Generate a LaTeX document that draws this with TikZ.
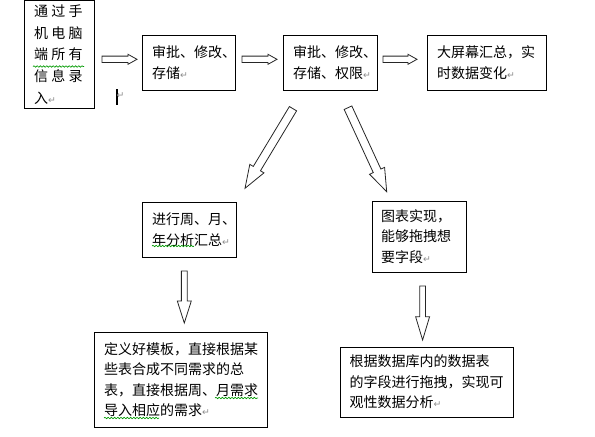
\documentclass[tikz,border=0pt]{standalone}
\usepackage{fontspec}
\setmainfont{Noto Sans CJK SC}
\newfontfamily\retfont{DejaVu Sans}
\usetikzlibrary{calc,decorations.pathmorphing}
\newcommand\rt{{\retfont\color{black!45}\fontsize{7}{7}\selectfont ↵}}
\newcommand\gapx{\hspace{2.5pt}}
\newcommand\blockarr[5]{%
  \coordinate (hb) at ($(#2)!#5!(#1)$);
  \draw[blockarrow] ($(#1)!#3!90:(#2)$) -- ($(hb)!#3!90:(#2)$) -- ($(hb)!#4!90:(#2)$) -- (#2)
    -- ($(hb)!#4!-90:(#2)$) -- ($(hb)!#3!-90:(#2)$) -- ($(#1)!#3!-90:(#2)$) -- cycle;}
\tikzset{
  box/.style={draw=black, line width=0.75pt, align=left, inner xsep=7.5pt, inner ysep=0pt,
    font=\fontsize{10.5}{15.4}\selectfont},
  blockarrow/.style={draw=black!85, line width=0.6pt, fill=white, line join=miter},
  squig/.style={draw=green!60!black, line width=0.5pt, decorate,
    decoration={snake, segment length=2.4pt, amplitude=0.55pt}}
}
\begin{document}
\begin{tikzpicture}[x=0.75pt,y=-0.75pt]
\useasboundingbox (0,0) rectangle (595,436);
% boxes
\node[box, minimum width=52.5pt, minimum height=81pt, text width=37.5pt, inner xsep=6.75pt,
  font=\fontsize{10.5}{16.2}\selectfont] (b1) at (59,54.5)
  {通\gapx 过\gapx 手\\机\gapx 电\gapx 脑\\端\gapx 所\gapx 有\\信\gapx 息\gapx 录\\入\rt};
\node[box, minimum width=69.75pt, minimum height=41.25pt, text width=54.75pt] (b2) at (188.5,62.5)
  {审批、修改、\\存储\rt};
\node[box, minimum width=70.5pt, minimum height=41.25pt, text width=55.5pt] (b3) at (330,62.5)
  {审批、修改、\\存储、权限\rt};
\node[box, minimum width=89.25pt, minimum height=41.25pt, text width=74.25pt] (b4) at (486.5,62.5)
  {大屏幕汇总，实\\时数据变化\rt};
\node[box, minimum width=70.5pt, minimum height=41.25pt, text width=55.5pt] (b5) at (189,229.5)
  {进行周、月、\\年分析汇总\rt};
\node[box, minimum width=70.5pt, minimum height=53.25pt, text width=57pt, inner xsep=6.75pt] (b6) at (419,236.5)
  {图表实现，\\能够拖拽想\\要字段\rt};
\node[box, minimum width=129.75pt, minimum height=71.25pt, text width=114.75pt] (b7) at (180.5,379.5)
  {定义好模板，直接根据某\\些表合成不同需求的总\\表，直接根据周、月需求\\导入相应的需求\rt};
\node[box, minimum width=129.75pt, minimum height=52.5pt, text width=115.5pt, inner xsep=7.1pt] (b8) at (426.5,382)
  {根据数据库内的数据表\\的字段进行拖拽，实现可\\观性数据分析\rt};
% cursor mark
\draw[line width=1.5pt] (117,89) -- (117,105);
\node[inner sep=0pt] (cur) at (120.5,96) {\rt};
% arrow end points
\coordinate (a1t) at (102,59.3); \coordinate (a1h) at (137,59.3);
\coordinate (a2t) at (242,59.3); \coordinate (a2h) at (277,59.3);
\coordinate (a3t) at (383,59.3); \coordinate (a3h) at (417,59.3);
\coordinate (d1t) at (293,108.7); \coordinate (d1h) at (245,188.3);
\coordinate (d2t) at (348,107.7); \coordinate (d2h) at (386.7,191.7);
\coordinate (v1t) at (184.3,271); \coordinate (v1h) at (184.3,323);
\coordinate (v2t) at (422.6,286); \coordinate (v2h) at (422.6,340);
% block arrows
\blockarr{a1t}{a1h}{2.4pt}{3.75pt}{6.75pt}
\blockarr{a2t}{a2h}{2.4pt}{3.75pt}{6.75pt}
\blockarr{a3t}{a3h}{2.4pt}{3.75pt}{6.75pt}
\blockarr{d1t}{d1h}{3.15pt}{6.2pt}{17.25pt}
\blockarr{d2t}{d2h}{3.15pt}{6.2pt}{17.25pt}
\blockarr{v1t}{v1h}{2.2pt}{5.25pt}{16.5pt}
\blockarr{v2t}{v2h}{2.2pt}{5.25pt}{17.5pt}
% spell-check squiggles
\draw[squig] (33,66.5) -- (84,66.5);
\draw[squig] (152,246) -- (194,246);
\draw[squig] (215,398) -- (258,398);
\draw[squig] (104,418) -- (159,418);
\end{tikzpicture}
\end{document}
